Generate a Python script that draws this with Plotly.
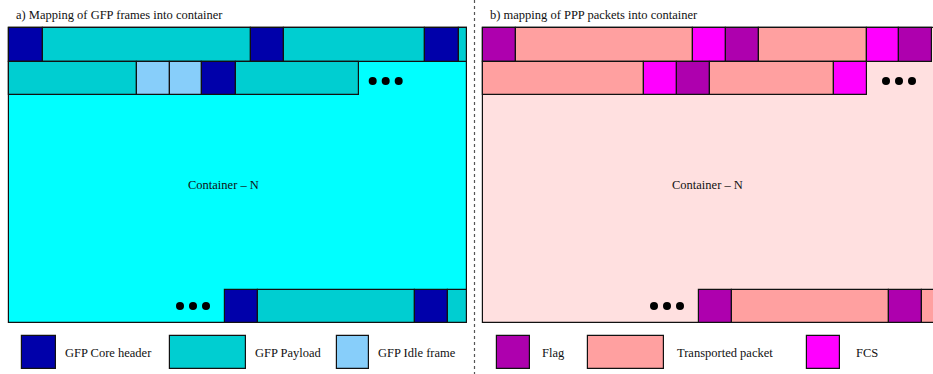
import plotly.graph_objects as go

# Colour of each block kind
COLORS = {
    'core': '#0000AA',
    'payload': '#00CED1',
    'idle': '#87CEFA',
    'flag': '#AE00AE',
    'packet': '#FFA0A0',
    'fcs': '#FF00FF',
}

# GFP container (left panel): block kinds and lengths (px) per row
GFP_ROW1 = ['core', 'payload', 'core', 'payload', 'core', 'payload']
GFP_ROW1_LEN = [33.3, 208.4, 33.3, 141.0, 33.3, 8.7]
GFP_ROW2 = ['payload', 'idle', 'idle', 'core', 'payload']
GFP_ROW2_LEN = [128.0, 32.7, 32.3, 33.4, 123.6]
GFP_LAST = ['core', 'payload', 'core', 'payload']
GFP_LAST_LEN = [33.3, 156.7, 33.0, 18.7]

# PPP container (right panel)
PPP_ROW1 = ['flag', 'packet', 'fcs', 'flag', 'packet', 'fcs', 'flag']
PPP_ROW1_LEN = [33.0, 176.7, 32.7, 33.0, 108.0, 32.3, 32.7]
PPP_ROW2 = ['packet', 'fcs', 'flag', 'packet', 'fcs']
PPP_ROW2_LEN = [160.7, 32.7, 33.0, 124.0, 33.0]
PPP_LAST = ['flag', 'packet', 'flag', 'packet']
PPP_LAST_LEN = [33.0, 156.7, 33.0, 40.0]

# Legends
GFP_KEYS = ['core', 'payload', 'idle']
GFP_LABELS = ['GFP Core header', 'GFP Payload', 'GFP Idle frame']
GFP_KEY_LEN = [33.4, 75.7, 32.6]
PPP_KEYS = ['flag', 'packet', 'fcs']
PPP_LABELS = ['Flag', 'Transported packet', 'FCS']
PPP_KEY_LEN = [33.0, 75.4, 33.0]

FONT = 'Liberation Serif'
ROW_H = 33.3
TOP = 28.3
BOTTOM = 323.0

fig = go.Figure()


def add_row(kinds, lengths, x0, yc, h=ROW_H):
    base = [x0]
    for w in lengths[:-1]:
        base.append(base[-1] + w)
    fig.add_trace(go.Bar(
        orientation='h', y=[yc] * len(kinds), x=lengths, base=base,
        width=[h] * len(kinds),
        marker=dict(color=[COLORS[k] for k in kinds],
                    line=dict(color='#111111', width=1.2)),
        showlegend=False, hoverinfo='skip'))


def add_container(x0, x1, fill):
    fig.add_trace(go.Bar(
        orientation='h', y=[(TOP + BOTTOM) / 2], x=[x1 - x0], base=[x0],
        width=[BOTTOM - TOP],
        marker=dict(color=fill, line=dict(color='#111111', width=1.2)),
        showlegend=False, hoverinfo='skip'))


def add_dots(x0, yc):
    fig.add_trace(go.Scatter(
        x=[x0, x0 + 13, x0 + 26], y=[yc] * 3, mode='markers',
        marker=dict(color='black', size=8), showlegend=False, hoverinfo='skip'))


# left panel
add_container(9.3, 466.7, '#00FFFF')
add_row(GFP_ROW1, GFP_ROW1_LEN, 9.3, TOP + ROW_H / 2)
add_row(GFP_ROW2, GFP_ROW2_LEN, 9.3, TOP + ROW_H * 1.5)
add_row(GFP_LAST, GFP_LAST_LEN, 225.0, BOTTOM - ROW_H / 2)
add_dots(372.7, 81)
add_dots(180.0, 306)

# right panel
add_container(483.3, 960.0, '#FFE0E0')
add_row(PPP_ROW1, PPP_ROW1_LEN, 483.3, TOP + ROW_H / 2)
add_row(PPP_ROW2, PPP_ROW2_LEN, 483.3, TOP + ROW_H * 1.5)
add_row(PPP_LAST, PPP_LAST_LEN, 699.3, BOTTOM - ROW_H / 2)
add_dots(886.0, 81)
add_dots(654.0, 306)

# legend boxes
LEG_Y = 352.7
for keys, labels, lens, box_x, text_x in [
    (GFP_KEYS, GFP_LABELS, GFP_KEY_LEN, [22.3, 170.0, 336.7], [65.0, 255.0, 378.3]),
    (PPP_KEYS, PPP_LABELS, PPP_KEY_LEN, [496.7, 588.3, 807.3], [542.7, 677.3, 856.7]),
]:
    fig.add_trace(go.Bar(
        orientation='h', y=[LEG_Y] * 3, x=lens, base=box_x, width=[ROW_H] * 3,
        marker=dict(color=[COLORS[k] for k in keys],
                    line=dict(color='#111111', width=1.2)),
        showlegend=False, hoverinfo='skip'))
    for lab, tx in zip(labels, text_x):
        fig.add_annotation(x=tx, y=LEG_Y, text=lab, showarrow=False,
                           xanchor='left', yanchor='middle', xshift=-2.5,
                           font=dict(size=12.5, color='#111111', family=FONT))

# titles and container labels
texts = [
    ('a) Mapping of GFP frames into container', 16.5, 15, 'left'),
    ('b) mapping of PPP packets into container', 490.7, 15, 'left'),
    ('Container \u2013 N', 223.0, 185, 'center'),
    ('Container \u2013 N', 707.0, 185, 'center'),
]
for t, tx, ty, anc in texts:
    fig.add_annotation(x=tx, y=ty, text=t, showarrow=False, xanchor=anc,
                       yanchor='middle', xshift=-2.5 if anc == 'left' else 0,
                       font=dict(size=12.5, color='#111111', family=FONT))

# dashed separator
fig.add_shape(type='line', x0=474.5, x1=474.5, y0=0, y1=374,
              xref='x', yref='y', line=dict(color='#555555', width=1.2, dash='3px,3px'))

fig.update_layout(
    width=933, height=374,
    margin=dict(l=0, r=0, t=0, b=0),
    paper_bgcolor='white', plot_bgcolor='white',
    barmode='overlay', bargap=0,
)
fig.update_xaxes(range=[0, 933], visible=False, fixedrange=True)
fig.update_yaxes(range=[374, 0], visible=False, fixedrange=True)

fig.write_html("out.html", config={'displayModeBar': False},
               post_script="document.body.style.margin='0';document.body.style.overflow='hidden';")
